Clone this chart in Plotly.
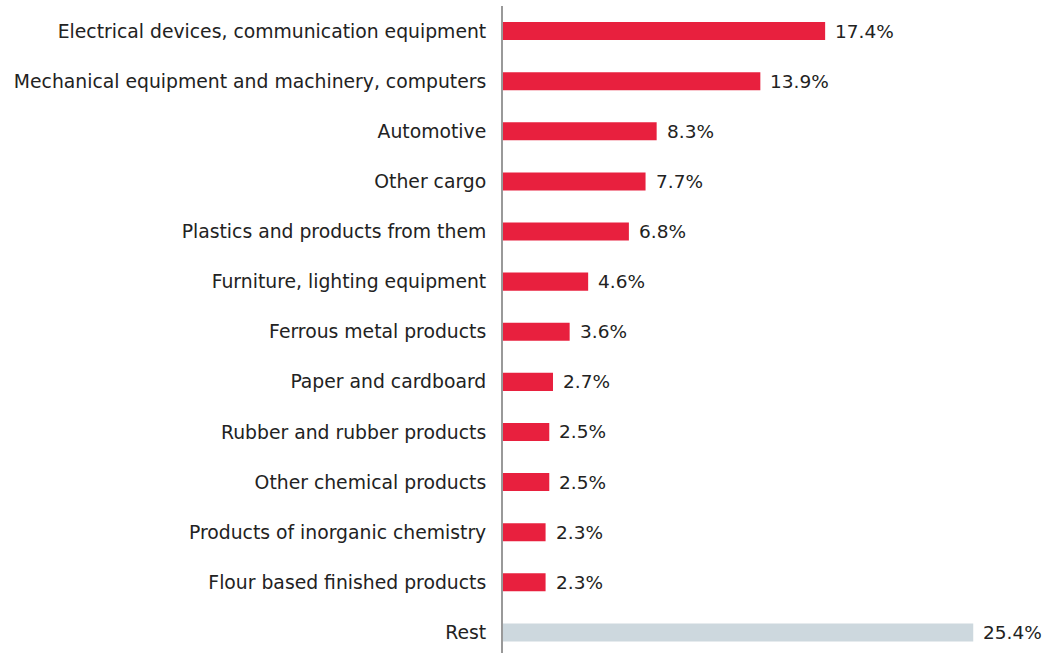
import plotly.graph_objects as go

categories = [
    "Electrical devices, communication equipment",
    "Mechanical equipment and machinery, computers",
    "Automotive",
    "Other cargo",
    "Plastics and products from them",
    "Furniture, lighting equipment",
    "Ferrous metal products",
    "Paper and cardboard",
    "Rubber and rubber products",
    "Other chemical products",
    "Products of inorganic chemistry",
    "Flour based finished products",
    "Rest",
]
shares = [17.4, 13.9, 8.3, 7.7, 6.8, 4.6, 3.6, 2.7, 2.5, 2.5, 2.3, 2.3, 25.4]

RED = "#E8203E"
GREY = "#CDD8DE"
colors = [GREY if c == "Rest" else RED for c in categories]
FONT = "DejaVu Sans"

fig = go.Figure(
    go.Bar(
        x=shares,
        y=categories,
        orientation="h",
        width=0.36,
        marker=dict(color=colors, line=dict(width=0)),
        hoverinfo="skip",
    )
)

for cat, val in zip(categories, shares):
    fig.add_annotation(
        x=val, y=cat, text=f"{val:.1f}%", showarrow=False,
        xanchor="left", yanchor="middle", xshift=8,
        font=dict(family=FONT, size=18.5, color="#222222"),
    )

fig.update_layout(
    width=1051, height=653,
    margin=dict(l=503, r=0, t=6, b=0),
    paper_bgcolor="white", plot_bgcolor="white",
    showlegend=False,
    font=dict(family=FONT, size=19, color="#222222"),
    xaxis=dict(range=[0, 29.6], visible=False, fixedrange=True),
    yaxis=dict(
        categoryorder="array", categoryarray=categories,
        range=[12.41, -0.5],
        showline=True, linecolor="#999999", linewidth=2,
        showgrid=False, zeroline=False, ticks="",
        ticklabelstandoff=11,
        tickfont=dict(family=FONT, size=18.8, color="#222222"),
        fixedrange=True,
    ),
)

fig.write_html("out.html", config={"displayModeBar": False})
